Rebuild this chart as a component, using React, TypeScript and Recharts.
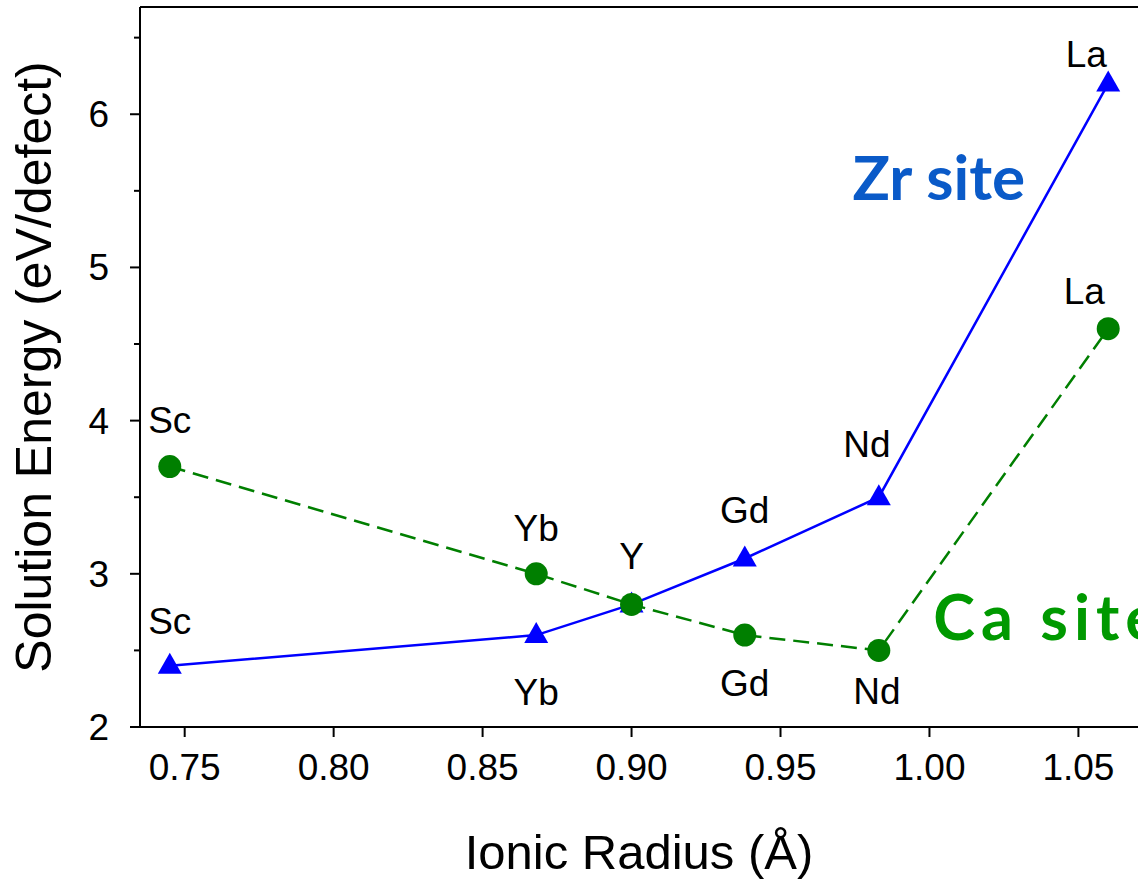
import { LineChart, Line, XAxis, YAxis, ReferenceLine, ReferenceDot } from 'recharts';

const elements = ['Sc', 'Yb', 'Y', 'Gd', 'Nd', 'La'];
const ionicRadius = [0.745, 0.868, 0.9, 0.938, 0.983, 1.06];
const zrSiteEnergy = [2.4, 2.6, 2.8, 3.1, 3.5, 6.2];
const caSiteEnergy = [3.7, 3.0, 2.8, 2.6, 2.5, 4.6];
const xTicks = [0.75, 0.8, 0.85, 0.9, 0.95, 1.0, 1.05];
const yTicks = [2, 2.5, 3, 3.5, 4, 4.5, 5, 5.5, 6, 6.5];

// label placement (dx, baseline dy) relative to each marker; null = no label
const zrLabelOffsets: ([number, number] | null)[] = [[0, -32], [0, 70], [0, -35], [0, -35], [-12, -40], [-22, -17]];
const caLabelOffsets: ([number, number] | null)[] = [[0, -34], [0, -33], null, [0, 61], [-2, 54], [-24, -25]];

const data = elements.map((el, i) => ({
  name: el,
  radius: ionicRadius[i],
  zr: zrSiteEnergy[i],
  ca: caSiteEnergy[i],
}));

const FONT = '"Liberation Sans", Arial, Helvetica, sans-serif';
const BLUE = '#0000ff';
const GREEN = '#007f00';

const pointLabel = (cx: number, cy: number, index: number, offsets: ([number, number] | null)[]) => {
  const off = offsets[index];
  if (!off) return null;
  return (
    <text x={cx + off[0]} y={cy + off[1]} textAnchor="middle" fontSize={37} fontFamily={FONT} fill="#000">
      {elements[index]}
    </text>
  );
};

const TriangleDot = (props: any) => {
  const { cx, cy, index } = props;
  return (
    <g key={`zr-${index}`}>
      <polygon points={`${cx},${cy - 13} ${cx - 12},${cy + 8} ${cx + 12},${cy + 8}`} fill={BLUE} />
      {pointLabel(cx, cy, index, zrLabelOffsets)}
    </g>
  );
};

const CircleDot = (props: any) => {
  const { cx, cy, index } = props;
  return (
    <g key={`ca-${index}`}>
      <circle cx={cx} cy={cy} r={11.5} fill={GREEN} />
      {pointLabel(cx, cy, index, caLabelOffsets)}
    </g>
  );
};

const XTick = (props: any) => {
  const { x, y, payload } = props;
  return (
    <g>
      <line x1={x} x2={x} y1={y} y2={y + 10} stroke="#000" strokeWidth={2} />
      <text x={x} y={y + 53} textAnchor="middle" fontSize={37} fontFamily={FONT} fill="#000">
        {payload.value.toFixed(2)}
      </text>
    </g>
  );
};

const YTick = (props: any) => {
  const { x, y, payload } = props;
  const major = Number.isInteger(payload.value);
  return (
    <g>
      <line x1={x - (major ? 10 : 6)} x2={x} y1={y} y2={y} stroke="#000" strokeWidth={2} />
      {major && (
        <text x={x - 31} y={y + 13} textAnchor="end" fontSize={37} fontFamily={FONT} fill="#000">
          {payload.value}
        </text>
      )}
    </g>
  );
};

export default function App() {
  return (
    <div style={{ position: 'absolute', left: 0, top: 0, width: 1138, height: 881, background: '#fff' }}>
      <LineChart width={1138} height={881} data={data} margin={{ top: 7, right: 0, left: 0, bottom: 0 }}>
        <XAxis
          dataKey="radius"
          type="number"
          domain={[0.735, 1.07]}
          ticks={xTicks}
          allowDataOverflow
          height={154}
          tickSize={0}
          tickMargin={0}
          tickLine={false}
          tick={<XTick />}
          axisLine={{ stroke: '#000', strokeWidth: 2 }}
          label={{
            content: (p: any) => {
              const vb = p.viewBox;
              return (
                <text x={vb.x + vb.width / 2} y={869} textAnchor="middle" fontSize={49} fontFamily={FONT} fill="#000">
                  Ionic Radius (Å)
                </text>
              );
            },
          }}
        />
        <YAxis
          type="number"
          domain={[2, 6.7]}
          ticks={yTicks}
          allowDataOverflow
          width={140}
          tickSize={0}
          tickMargin={0}
          tickLine={false}
          tick={<YTick />}
          axisLine={{ stroke: '#000', strokeWidth: 2 }}
          label={{
            content: (p: any) => {
              const vb = p.viewBox;
              const cy = vb.y + vb.height / 2;
              return (
                <text
                  x={51}
                  y={cy}
                  transform={`rotate(-90, 51, ${cy})`}
                  textAnchor="middle"
                  fontSize={50}
                  fontFamily={FONT}
                  fill="#000"
                >
                  Solution Energy (eV/defect)
                </text>
              );
            },
          }}
        />
        <ReferenceLine y={6.7} stroke="#000" strokeWidth={2} ifOverflow="visible" />
        <Line
          dataKey="zr"
          stroke={BLUE}
          strokeWidth={2.5}
          dot={TriangleDot}
          activeDot={false}
          isAnimationActive={false}
        />
        <Line
          dataKey="ca"
          stroke={GREEN}
          strokeWidth={2.5}
          strokeDasharray="16 8"
          dot={CircleDot}
          activeDot={false}
          isAnimationActive={false}
        />
        <ReferenceDot
          x={0.9742}
          y={5.44}
          r={0}
          shape={(p: any) => (
            <text x={p.cx} y={p.cy} fontSize={62} fontWeight={700} fontFamily="Lato, 'Open Sans', sans-serif" fill="#0a5ac8">
              Zr site
            </text>
          )}
        />
        <ReferenceDot
          x={1.0013}
          y={2.57}
          r={0}
          shape={(p: any) => (
            <text
              x={p.cx}
              y={p.cy}
              fontSize={63}
              fontWeight={700}
              letterSpacing={6}
              fontFamily="Lato, 'Open Sans', sans-serif"
              fill="#009900"
            >
              Ca site
            </text>
          )}
        />
      </LineChart>
    </div>
  );
}
